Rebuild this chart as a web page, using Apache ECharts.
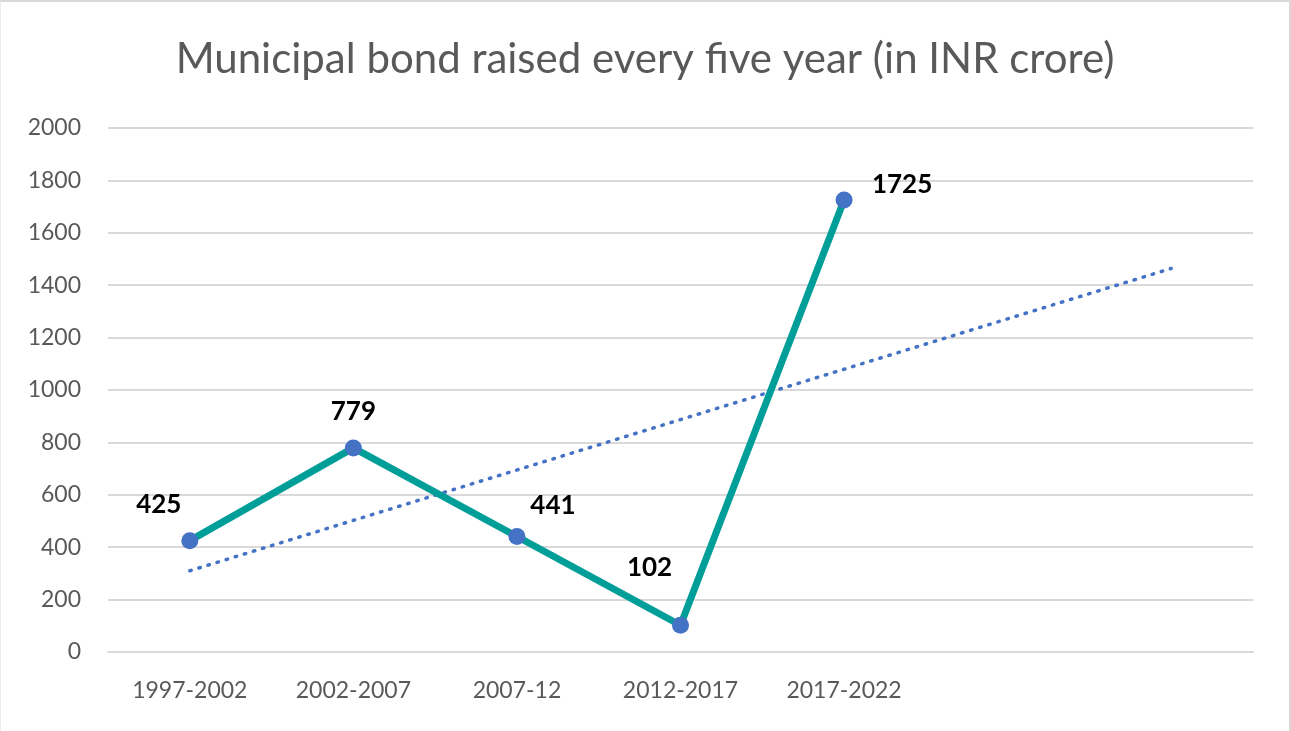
<!DOCTYPE html>
<html>
<head>
<meta charset="utf-8">
<script src="https://cdn.jsdelivr.net/npm/echarts@6/dist/echarts.min.js"></script>
<style>
  html, body { margin: 0; padding: 0; background: #ffffff; }
  #chart { width: 1291px; height: 731px; box-sizing: border-box; border: 2px solid #d9d9d9; border-bottom: none; border-left: 1px solid #ececec; }
</style>
</head>
<body>
<div id="chart"></div>
<script>
// Five-year periods, plus two empty slots the trendline forecasts into
const periods = ['1997-2002', '2002-2007', '2007-12', '2012-2017', '2017-2022', '', ''];
// Municipal bonds raised per period (INR crore)
const bondValues = [425, 779, 441, 102, 1725, null, null];
// Linear trend, start and forecast end
const trendValues = [310, null, null, null, null, null, 1464];
const yTicks = { min: 0, max: 2000, step: 200 };

// Value label offsets from each point centre, in pixels
const labelOffsets = [[-31, -36], [0, -36], [36, -31], [-31, -58], [58, -15]];

const font = 'Lato, "Open Sans", sans-serif';

const chart = echarts.init(document.getElementById('chart'));
chart.setOption({
  animation: false,
  title: {
    text: 'Municipal bond raised every five year (in INR crore)',
    left: 'center',
    top: 31,
    textStyle: { fontFamily: font, fontWeight: 'normal', fontSize: 42, color: '#595959' }
  },
  grid: { left: 107, right: 36, top: 126, bottom: 79, containLabel: false },
  xAxis: {
    type: 'category',
    data: periods,
    boundaryGap: true,
    axisLine: { show: true, lineStyle: { color: '#d9d9d9', width: 2 } },
    axisTick: { show: false },
    axisLabel: { fontFamily: font, fontSize: 23, color: '#595959', margin: 27 }
  },
  yAxis: {
    type: 'value',
    min: yTicks.min,
    max: yTicks.max,
    interval: yTicks.step,
    axisLine: { show: false },
    axisTick: { show: false },
    axisLabel: { fontFamily: font, fontSize: 23, color: '#595959', margin: 27, formatter: v => String(v) },
    splitLine: { lineStyle: { color: '#d9d9d9', width: 2 } }
  },
  series: [
    {
      name: 'Trend',
      type: 'line',
      data: trendValues,
      connectNulls: true,
      symbol: 'none',
      lineStyle: { color: '#4472c4', width: 3.5, type: [1.5, 8], cap: 'round' },
      z: 2
    },
    {
      name: 'Bonds raised',
      type: 'line',
      data: bondValues.map((v, i) => v == null ? null : {
        value: v,
        label: { show: true, position: 'inside', offset: labelOffsets[i] }
      }),
      symbol: 'circle',
      symbolSize: 17,
      itemStyle: { color: '#4472c4' },
      lineStyle: { color: '#009e99', width: 7 },
      label: { fontFamily: font, fontSize: 26, fontWeight: 'bold', color: '#000000' },
      z: 3
    }
  ]
});
</script>
</body>
</html>
